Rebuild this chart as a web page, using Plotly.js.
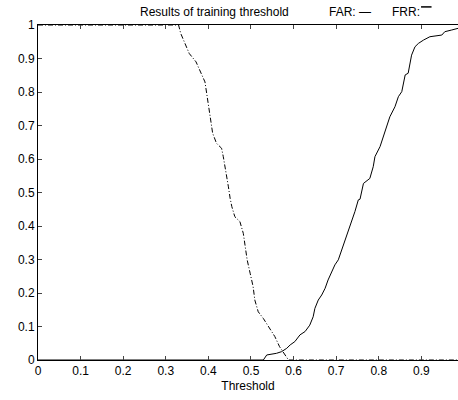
<!DOCTYPE html>
<html><head><meta charset="utf-8">
<script src="https://cdn.plot.ly/plotly-3.0.1.min.js"></script>
<style>html,body{margin:0;padding:0;background:#fff}#chart{width:458px;height:400px}</style>
</head><body><div id="chart"></div>
<script>
const farThreshold = [0, 0.529, 0.537, 0.56, 0.572, 0.584, 0.592, 0.603, 0.615, 0.627, 0.638, 0.646, 0.65, 0.658, 0.666, 0.674, 0.681, 0.689, 0.697, 0.705, 0.713, 0.721, 0.728, 0.736, 0.744, 0.752, 0.756, 0.764, 0.779, 0.787, 0.791, 0.803, 0.811, 0.818, 0.826, 0.838, 0.846, 0.854, 0.858, 0.862, 0.869, 0.873, 0.877, 0.885, 0.893, 0.905, 0.92, 0.948, 0.955, 0.971, 0.986];
const farValues = [0, 0.0, 0.015, 0.02, 0.025, 0.035, 0.045, 0.055, 0.075, 0.085, 0.104, 0.129, 0.154, 0.179, 0.194, 0.214, 0.239, 0.264, 0.284, 0.299, 0.328, 0.353, 0.383, 0.413, 0.443, 0.478, 0.48, 0.527, 0.542, 0.577, 0.607, 0.637, 0.667, 0.696, 0.726, 0.756, 0.786, 0.801, 0.826, 0.851, 0.856, 0.886, 0.91, 0.935, 0.945, 0.955, 0.965, 0.97, 0.98, 0.985, 0.99];
const frrThreshold = [0, 0.33, 0.335, 0.355, 0.371, 0.38, 0.392, 0.396, 0.40, 0.405, 0.41, 0.419, 0.431, 0.435, 0.441, 0.447, 0.451, 0.455, 0.462, 0.474, 0.482, 0.486, 0.491, 0.498, 0.505, 0.509, 0.517, 0.529, 0.541, 0.556, 0.567, 0.58, 0.588, 0.986];
const frrValues = [1, 1, 0.975, 0.915, 0.89, 0.866, 0.83, 0.796, 0.761, 0.716, 0.677, 0.647, 0.632, 0.607, 0.567, 0.517, 0.483, 0.458, 0.428, 0.413, 0.378, 0.343, 0.299, 0.259, 0.219, 0.179, 0.144, 0.124, 0.099, 0.07, 0.04, 0.015, 0, 0];
const xTicks = [0, 0.1, 0.2, 0.3, 0.4, 0.5, 0.6, 0.7, 0.8, 0.9];
const xTickLabels = ['0', '0.1', '0.2', '0.3', '0.4', '0.5', '0.6', '0.7', '0.8', '0.9'];
const yTicks = [0, 0.1, 0.2, 0.3, 0.4, 0.5, 0.6, 0.7, 0.8, 0.9, 1];
const yTickLabels = ['0', '0.1', '0.2', '0.3', '0.4', '0.5', '0.6', '0.7', '0.8', '0.9', '1'];
const titleText = 'Results of training threshold';
const xTitle = 'Threshold';

const font = {family: 'Liberation Sans, Arial, sans-serif', size: 12, color: '#000'};
const traces = [
  {x: farThreshold, y: farValues, mode: 'lines', name: 'FAR', line: {color: '#000', width: 1}},
  {x: frrThreshold, y: frrValues, mode: 'lines', name: 'FRR', line: {color: '#000', width: 1, dash: '5px,2px,1px,2px'}}
];
const layout = {
  width: 458, height: 400,
  margin: {l: 38, r: 0, t: 25, b: 40},
  paper_bgcolor: '#fff', plot_bgcolor: '#fff',
  showlegend: false,
  font: font,
  xaxis: {range: [0, 0.986], tickvals: xTicks, ticktext: xTickLabels, ticks: 'inside', ticklen: 4,
    showline: true, linecolor: '#000', linewidth: 1, mirror: 'ticks', showgrid: false, zeroline: false,
    tickfont: font, title: {text: xTitle, font: font, standoff: 4}},
  yaxis: {range: [0, 1], tickvals: yTicks, ticktext: yTickLabels, ticks: 'inside', ticklen: 4,
    showline: true, linecolor: '#000', linewidth: 1, showgrid: false, zeroline: false, tickfont: font},
  annotations: [
    {text: titleText, xref: 'paper', yref: 'paper', x: 0.42, y: 1, yshift: 13, showarrow: false,
     font: {family: font.family, size: 12, color: '#000'}, xanchor: 'center', yanchor: 'middle'},
    {text: 'FAR: \u2014', xref: 'paper', yref: 'paper', x: 0.689, y: 1, yshift: 13, showarrow: false,
     font: {family: font.family, size: 12, color: '#000'}, xanchor: 'left', yanchor: 'middle'},
    {text: 'FRR:', xref: 'paper', yref: 'paper', x: 0.838, y: 1, yshift: 13, showarrow: false,
     font: {family: font.family, size: 12, color: '#000'}, xanchor: 'left', yanchor: 'middle'}
  ],
  shapes: [
    {type: 'line', xref: 'paper', yref: 'paper', x0: 0.912, x1: 0.937, y0: 1.054, y1: 1.054,
     line: {color: '#000', width: 1.5}}
  ]
};
Plotly.newPlot('chart', traces, layout, {displayModeBar: false, staticPlot: true});
</script></body></html>
